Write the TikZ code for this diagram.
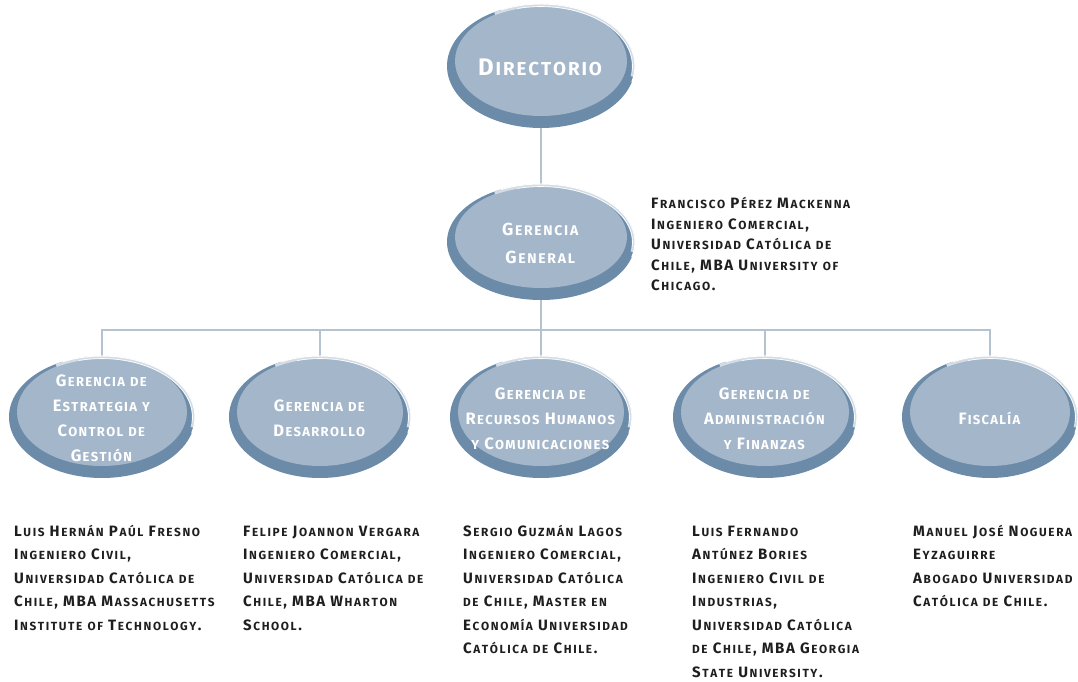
\documentclass[tikz,border=0pt]{standalone}
\usepackage{fontspec}
\setmainfont{Fira Sans}
\usetikzlibrary{shapes.geometric,backgrounds}
\definecolor{ringc}{HTML}{6B8BA8}
\definecolor{fillc}{HTML}{A3B6CA}
\definecolor{hlc}{HTML}{D3DCE5}
\definecolor{connc}{HTML}{B5C2CF}
\definecolor{txtc}{HTML}{1E1E1E}
\newcommand\fscsz{10}
\newcommand\fsckern{0.4pt}
\newcommand\fscsmall{\fontsize{\fscsz}{\fscsz}\selectfont}
\ExplSyntaxOn
\seq_new:N \l__fsc_seq
\bool_new:N \l__fsc_first_bool
\cs_new_protected:Npn \fsc_char:n #1
  {
    \str_if_eq:eeTF { #1 } { \text_uppercase:n { #1 } }
      { #1 }
      { { \fscsmall \text_uppercase:n { #1 } } }
    \kern \fsckern \relax
  }
\NewDocumentCommand \fsc { m }
  {
    \seq_set_split:Nnn \l__fsc_seq { ~ } { #1 }
    \bool_set_true:N \l__fsc_first_bool
    \seq_map_inline:Nn \l__fsc_seq
      {
        \bool_if:NF \l__fsc_first_bool { \c_space_tl }
        \bool_set_false:N \l__fsc_first_bool
        \tl_map_inline:nn { ##1 } { \fsc_char:n { ####1 } }
      }
  }
\ExplSyntaxOff
\tikzset{
  orgell/.style={ellipse, fill=fillc, inner sep=0pt},
  orgtxt/.style={align=center, text=white, inner sep=0pt,
    font=\bfseries\fontsize{16.5}{25}\selectfont\def\fscsz{13}\def\fsckern{1.3pt}},
  dirtxt/.style={font=\bfseries\fontsize{24}{26}\selectfont\def\fscsz{18.8}\def\fsckern{1.9pt}},
  ggtxt/.style={font=\bfseries\fontsize{17.5}{28}\selectfont\def\fscsz{14}\def\fsckern{1.7pt}},
  conn/.style={draw=connc, line width=1.5pt},
  person/.style={anchor=base west, align=left, text=txtc, inner sep=0pt,
    font=\bfseries\fontsize{15}{23.5}\selectfont\def\fscsz{11.8}\def\fsckern{1.6pt}},
  ggperson/.style={person, font=\bfseries\fontsize{15}{20.5}\selectfont\def\fscsz{11.8}\def\fsckern{1.6pt}}
}
% name, cx, cy, rx, ry, text, text style
\newcommand\orgunit[7]{%
  \fill[ringc] (#2,#3) ellipse [x radius=#4, y radius=#5];
  \node[orgell, minimum width={2*#4-16}, minimum height={2*#5-14}] (#1) at (#2,#3+5) {};
  \draw[hlc, line width=3pt] ({#2+(#4-1.5)*cos(120)},{#3+(#5-1.5)*sin(120)}) arc[start angle=120, end angle=-10, x radius=#4-1.5, y radius=#5-1.5];
  \draw[white, line width=1pt] ({#2+(#4)*cos(115)},{#3+(#5)*sin(115)}) arc[start angle=115, end angle=-15, x radius=#4, y radius=#5];
  \draw[white, line width=0.6pt] ({#2+(#4-2.5)*cos(105)},{#3+(#5-2.5)*sin(105)}) arc[start angle=105, end angle=-5, x radius=#4-2.5, y radius=#5-2.5];
  \node[orgtxt,#7] (#1-t) at (#2,#3-1.5) {#6};
}
\begin{document}
\begin{tikzpicture}[x=1pt,y=1pt]
\useasboundingbox (0,0) rectangle (1078,681);
\orgunit{dir}{541}{615}{94}{62}{\fsc{Directorio}}{dirtxt}
\orgunit{gg}{541}{439}{94}{58}{\fsc{Gerencia}\\\fsc{General}}{ggtxt}
\orgunit{e1}{102}{264}{93}{61}{\fsc{Gerencia de}\\\fsc{Estrategia y}\\\fsc{Control de}\\\fsc{Gestión}}{}
\orgunit{e2}{320}{264}{91}{61}{\fsc{Gerencia de}\\\fsc{Desarrollo}}{}
\orgunit{e3}{541}{264}{91}{61}{\fsc{Gerencia de}\\\fsc{Recursos Humanos}\\\fsc{y Comunicaciones}}{}
\orgunit{e4}{765}{264}{92}{61}{\fsc{Gerencia de}\\\fsc{Administración}\\\fsc{y Finanzas}}{}
\orgunit{e5}{990}{264}{88}{61}{\fsc{Fiscalía}}{}
\coordinate (bus) at (541,351);
\begin{pgfonlayer}{background}
\draw[conn] (dir.center) -- (gg.center);
\draw[conn] (gg.center) -- (e3.center);
\draw[conn] (e1.center) |- (bus) -| (e5.center);
\draw[conn] (e2.center) -- (e2.center |- bus);
\draw[conn] (e4.center) -- (e4.center |- bus);
\end{pgfonlayer}
% base anchor = baseline of the last line
\node[ggperson] (p0) at (651,390) {\fsc{Francisco Pérez Mackenna}\\\fsc{Ingeniero Comercial,}\\\fsc{Universidad Católica de}\\\fsc{Chile, MBA University of}\\\fsc{Chicago.}};
\node[person] (p1) at (14,51) {\fsc{Luis Hernán Paúl Fresno}\\\fsc{Ingeniero Civil,}\\\fsc{Universidad Católica de}\\\fsc{Chile, MBA Massachusetts}\\\fsc{Institute of Technology.}};
\node[person] (p2) at (243,51) {\fsc{Felipe Joannon Vergara}\\\fsc{Ingeniero Comercial,}\\\fsc{Universidad Católica de}\\\fsc{Chile, MBA Wharton}\\\fsc{School.}};
\node[person] (p3) at (463,27.5) {\fsc{Sergio Guzmán Lagos}\\\fsc{Ingeniero Comercial,}\\\fsc{Universidad Católica}\\\fsc{de Chile, Master en}\\\fsc{Economía Universidad}\\\fsc{Católica de Chile.}};
\node[person] (p4) at (692,4) {\fsc{Luis Fernando}\\\fsc{Antúnez Bories}\\\fsc{Ingeniero Civil de}\\\fsc{Industrias,}\\\fsc{Universidad Católica}\\\fsc{de Chile, MBA Georgia}\\\fsc{State University.}};
\node[person] (p5) at (913,74.5) {\fsc{Manuel José Noguera}\\\fsc{Eyzaguirre}\\\fsc{Abogado Universidad}\\\fsc{Católica de Chile.}};
\end{tikzpicture}
\end{document}
